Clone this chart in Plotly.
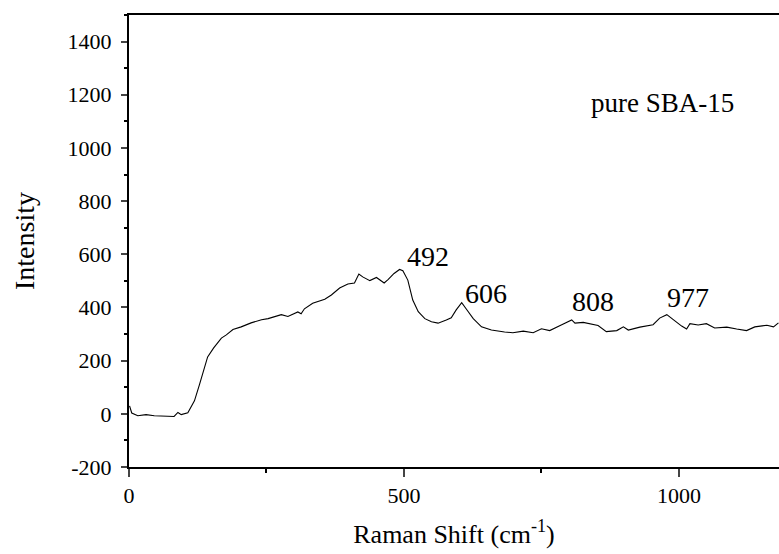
import plotly.graph_objects as go

raman_shift = [1, 5, 16, 31, 46, 65, 82, 89, 95, 107, 119, 128, 137, 143, 154, 168, 177, 189, 204, 222,
               241, 253, 277, 289, 307, 313, 319, 334, 356, 368, 383, 398, 410, 418, 425, 438, 450, 464,
               471, 482, 492, 498, 507, 516, 526, 538, 550, 562, 577, 586, 595, 605, 613, 626, 641, 659,
               683, 698, 717, 735, 750, 765, 786, 805, 811, 826, 853, 868, 887, 899, 908, 929, 953, 965,
               978, 990, 1005, 1014, 1020, 1035, 1050, 1065, 1087, 1105, 1123, 1138, 1160, 1172, 1181]
intensity = [30, 3, -7, -3, -7, -9, -10, 5, -3, 4, 49, 109, 176, 214, 248, 285, 297, 317, 327, 342,
             354, 358, 373, 366, 383, 376, 395, 416, 431, 447, 473, 488, 492, 526, 515, 501, 513, 492,
             505, 528, 543, 538, 503, 428, 384, 358, 346, 341, 353, 361, 391, 418, 395, 358, 327, 315,
             308, 305, 311, 305, 320, 313, 334, 353, 341, 344, 332, 309, 313, 327, 315, 326, 335, 360,
             373, 353, 330, 319, 339, 334, 339, 323, 326, 319, 313, 327, 333, 327, 342]

peak_labels = ["492", "606", "808", "977"]
peak_x = [543, 649, 843, 1016]
peak_y = [593, 451, 421, 436]

x_ticks = [0, 500, 1000]
y_ticks = [-200, 0, 200, 400, 600, 800, 1000, 1200, 1400]
y_tick_text = ["-200", "0", "200", "400", "600", "800", "1000", "1200", "1400"]

serif = "Liberation Serif"

fig = go.Figure()
fig.add_trace(go.Scatter(x=raman_shift, y=intensity, mode="lines",
                         line=dict(color="black", width=1.1), showlegend=False))

for t, px, py in zip(peak_labels, peak_x, peak_y):
    fig.add_annotation(x=px, y=py, text=t, showarrow=False,
                       font=dict(family=serif, size=28, color="black"))

fig.add_annotation(x=971, y=1168, text="pure SBA-15", showarrow=False,
                   font=dict(family=serif, size=27, color="black"))

fig.update_layout(
    width=779, height=554,
    margin=dict(l=129, r=0, t=15, b=87),
    paper_bgcolor="white", plot_bgcolor="white",
    font=dict(family=serif, color="black"),
    xaxis=dict(range=[0, 1182], tickvals=x_ticks, ticks="outside", ticklen=8, tickwidth=2,
               showline=True, linewidth=2, linecolor="black", mirror=True,
               showgrid=False, zeroline=False,
               minor=dict(dtick=250, tick0=0, ticks="outside", ticklen=4, tickwidth=2, tickcolor="black"),
               tickfont=dict(family=serif, size=22),
               title=dict(text="Raman Shift (cm<sup>-1</sup>)", font=dict(family=serif, size=26), standoff=17)),
    yaxis=dict(range=[-200, 1500], tickvals=y_ticks, ticktext=y_tick_text, ticks="outside", ticklen=6, tickwidth=2,
               showline=True, linewidth=2, linecolor="black", mirror=False,
               showgrid=False, zeroline=False, ticklabelstandoff=5,
               minor=dict(dtick=100, tick0=0, ticks="outside", ticklen=3, tickwidth=2, tickcolor="black"),
               tickfont=dict(family=serif, size=22),
               title=dict(text="Intensity", font=dict(family=serif, size=28), standoff=25)),
)

fig.write_html("out.html")
